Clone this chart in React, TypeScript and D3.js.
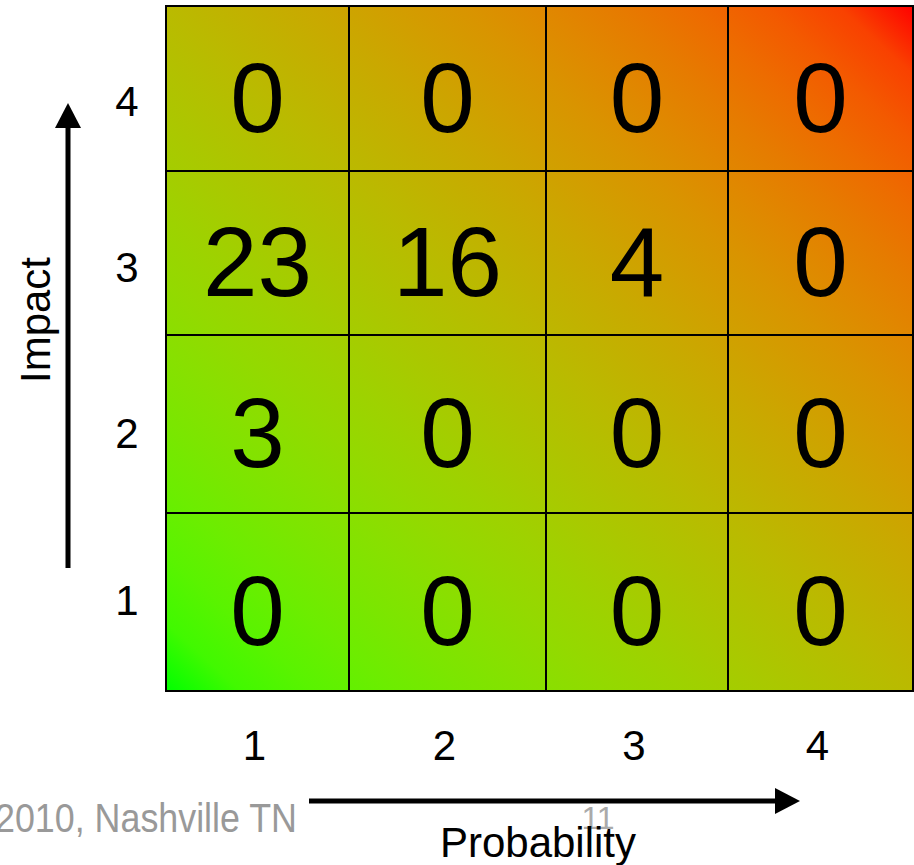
import React from "react";
import * as d3 from "d3";

// Risk matrix: counts of items per impact (rows) and probability (columns)
const probabilityLevels = [1, 2, 3, 4];
const impactLevels = [1, 2, 3, 4];
const impact1Counts = [0, 0, 0, 0];
const impact2Counts = [3, 0, 0, 0];
const impact3Counts = [23, 16, 4, 0];
const impact4Counts = [0, 0, 0, 0];
const countsByImpact = [impact1Counts, impact2Counts, impact3Counts, impact4Counts];

const footerText = "2010, Nashville TN";
const pageNumber = "11";

const W = 914;
const H = 865;
const FONT = "'Liberation Sans', Arial, Helvetica, sans-serif";

export default function App() {
  // Piecewise scales: boundary index -> pixel edge of the grid
  const x = d3.scaleLinear().domain([0, 1, 2, 3, 4]).range([166, 349, 546, 728, 913]);
  const y = d3.scaleLinear().domain([0, 1, 2, 3, 4]).range([691, 513, 335, 171, 6]);
  // Impact tick labels are evenly spaced along the left side
  const yTick = d3.scaleLinear().domain([1, 4]).range([600, 101]);

  const grad = d3.interpolateRgb.gamma(2.2)("#00ff00", "#ff0000");
  const stops = d3.range(0, 1.0001, 0.05);

  const cells: { p: number; i: number; v: number }[] = [];
  impactLevels.forEach((imp, ri) => {
    probabilityLevels.forEach((p, ci) => {
      cells.push({ p, i: imp, v: countsByImpact[ri][ci] });
    });
  });

  const cx = (p: number) => (x(p - 1) + x(p)) / 2;
  const cy = (i: number) => (y(i - 1) + y(i)) / 2;

  const yArrowX = 68;
  const yArrowBottom = 568;
  const yArrowTip = 103;
  const xArrowY = 801;
  const xArrowLeft = 309;
  const xArrowTip = 800;
  const head = 25;
  const headHalf = 13;

  return (
    <svg
      width={W}
      height={H}
      viewBox={`0 0 ${W} ${H}`}
      style={{ position: "absolute", left: 0, top: 0, display: "block", background: "#fff" }}
      fontFamily={FONT}
    >
      <defs>
        <linearGradient id="riskGrad" x1="0" y1="1" x2="1" y2="0">
          {stops.map((t) => (
            <stop key={t} offset={t} stopColor={grad(t)} />
          ))}
        </linearGradient>
      </defs>

      {/* gradient background of the matrix */}
      <rect
        x={x(0)}
        y={y(4)}
        width={x(4) - x(0)}
        height={y(0) - y(4)}
        fill="url(#riskGrad)"
      />

      {/* cell borders */}
      {cells.map((c) => (
        <rect
          key={`b-${c.p}-${c.i}`}
          x={x(c.p - 1)}
          y={y(c.i)}
          width={x(c.p) - x(c.p - 1)}
          height={y(c.i - 1) - y(c.i)}
          fill="none"
          stroke="#000"
          strokeWidth={2}
        />
      ))}

      {/* cell counts */}
      {cells.map((c) => (
        <text
          key={`t-${c.p}-${c.i}`}
          x={cx(c.p)}
          y={cy(c.i) + 9}
          textAnchor="middle"
          dominantBaseline="central"
          fontSize={98}
          fill="#000"
        >
          {c.v}
        </text>
      ))}

      {/* impact tick labels */}
      {impactLevels.map((i) => (
        <text
          key={`yi-${i}`}
          x={127}
          y={yTick(i)}
          textAnchor="middle"
          dominantBaseline="central"
          fontSize={42}
        >
          {i}
        </text>
      ))}

      {/* probability tick labels */}
      {probabilityLevels.map((p) => (
        <text key={`xp-${p}`} x={cx(p) - 3} y={760} textAnchor="middle" fontSize={42}>
          {p}
        </text>
      ))}

      {/* impact arrow */}
      <line
        x1={yArrowX}
        y1={yArrowBottom}
        x2={yArrowX}
        y2={yArrowTip + head - 2}
        stroke="#000"
        strokeWidth={5}
      />
      <path
        d={`M${yArrowX},${yArrowTip} L${yArrowX + headHalf},${yArrowTip + head} L${yArrowX - headHalf},${yArrowTip + head} Z`}
        fill="#000"
      />
      <text
        transform={`translate(50,320) rotate(-90)`}
        textAnchor="middle"
        fontSize={42}
      >
        Impact
      </text>

      {/* footer */}
      <text
        x={297}
        y={832}
        textAnchor="end"
        fontSize={40}
        fill="#999"
        textLength={302}
        lengthAdjust="spacingAndGlyphs"
      >
        {footerText}
      </text>
      <text x={598} y={829} textAnchor="middle" fontSize={32} fill="#aaa">
        {pageNumber}
      </text>

      {/* probability arrow */}
      <line
        x1={xArrowLeft}
        y1={xArrowY}
        x2={xArrowTip - head + 2}
        y2={xArrowY}
        stroke="#000"
        strokeWidth={5}
      />
      <path
        d={`M${xArrowTip},${xArrowY} L${xArrowTip - head},${xArrowY - headHalf} L${xArrowTip - head},${xArrowY + headHalf} Z`}
        fill="#000"
      />
      <text x={538} y={857} textAnchor="middle" fontSize={42}>
        Probability
      </text>
    </svg>
  );
}
